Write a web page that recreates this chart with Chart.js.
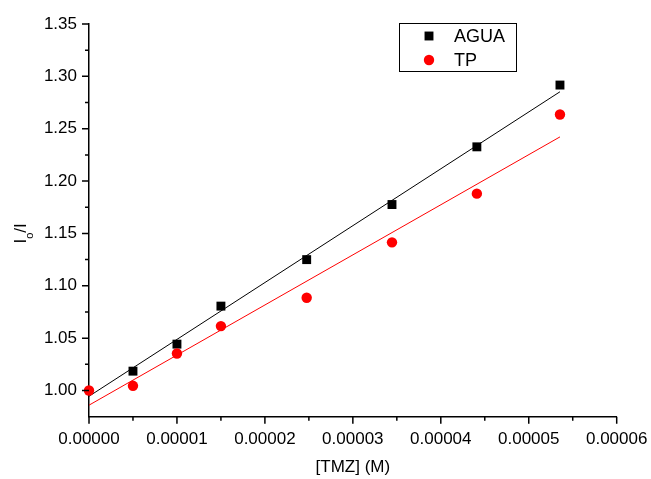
<!DOCTYPE html>
<html>
<head>
<meta charset="utf-8">
<script src="https://cdn.jsdelivr.net/npm/chart.js@4"></script>
<style>
html,body{margin:0;padding:0;background:#fff;}
#wrap{width:651px;height:479px;position:relative;}
</style>
</head>
<body>
<div id="wrap"><canvas id="c" width="651" height="479"></canvas></div>
<script>
// ---- data ----
const seriesNames = ['AGUA', 'TP'];
const xAgua = [0.000005, 0.00001, 0.000015, 0.00002475, 0.00003445, 0.0000441, 0.00005355];
const yAgua = [1.0185, 1.0443, 1.0806, 1.125, 1.1776, 1.2327, 1.2917];
const xTP = [0, 0.000005, 0.00001, 0.000015, 0.00002475, 0.00003445, 0.0000441, 0.00005355];
const yTP = [1.000, 1.0045, 1.0354, 1.0615, 1.0886, 1.1415, 1.188, 1.2636];
const fitX = [0, 0.00005355];
const fitAgua = [0.9945, 1.2853];
const fitTP = [0.986, 1.2422];
const xMajorTicks = [0, 0.00001, 0.00002, 0.00003, 0.00004, 0.00005, 0.00006];
const xMinorTicks = [0.000005, 0.000015, 0.000025, 0.000035, 0.000045, 0.000055];
const yMajorTicks = [1.00, 1.05, 1.10, 1.15, 1.20, 1.25, 1.30, 1.35];
const yMinorTicks = [1.025, 1.075, 1.125, 1.175, 1.225, 1.275, 1.325];
const xTitle = '[TMZ] (M)';
const yTitleParts = ['I', 'o', '/I'];

const FONT = 'Liberation Sans, Arial, sans-serif';
const toPts = (xs, ys) => xs.map((x, i) => ({x: x, y: ys[i]}));

const tickPlugin = {
  id: 'ticksAndLabels',
  afterDraw(chart) {
    const ctx = chart.ctx;
    const xs = chart.scales.x, ys = chart.scales.y;
    const ca = chart.chartArea;
    ctx.save();
    ctx.strokeStyle = '#000';
    ctx.lineWidth = 1.5;
    ctx.beginPath();
    xMajorTicks.forEach(v => { const p = xs.getPixelForValue(v); ctx.moveTo(p, ca.bottom); ctx.lineTo(p, ca.bottom + 7); });
    xMinorTicks.forEach(v => { const p = xs.getPixelForValue(v); ctx.moveTo(p, ca.bottom); ctx.lineTo(p, ca.bottom + 4); });
    yMajorTicks.forEach(v => { const p = ys.getPixelForValue(v); ctx.moveTo(ca.left, p); ctx.lineTo(ca.left - 7, p); });
    yMinorTicks.forEach(v => { const p = ys.getPixelForValue(v); ctx.moveTo(ca.left, p); ctx.lineTo(ca.left - 4, p); });
    ctx.stroke();

    // y axis title with subscript
    ctx.fillStyle = '#000';
    ctx.translate(26, 243.5);
    ctx.rotate(-Math.PI / 2);
    ctx.textBaseline = 'alphabetic';
    ctx.font = '17px ' + FONT;
    ctx.fillText(yTitleParts[0], 0, 0);
    const w0 = ctx.measureText(yTitleParts[0]).width;
    ctx.font = '11px ' + FONT;
    ctx.fillText(yTitleParts[1], w0, 7);
    const w1 = ctx.measureText(yTitleParts[1]).width;
    ctx.font = '17px ' + FONT;
    ctx.fillText(yTitleParts[2], w0 + w1, 0);
    ctx.restore();

    // legend
    ctx.save();
    ctx.strokeStyle = '#000';
    ctx.lineWidth = 1;
    ctx.strokeRect(399.5, 23.5, 117, 48);
    const ds = chart.data.datasets;
    const entries = [ds[0], ds[1]];
    const ys0 = [36, 60];
    entries.forEach((d, i) => {
      ctx.fillStyle = d.pointBackgroundColor;
      ctx.strokeStyle = d.pointBorderColor;
      ctx.lineWidth = 1;
      Chart.helpers.drawPoint(ctx, {pointStyle: d.pointStyle, radius: d.pointRadius, borderWidth: 0}, 429, ys0[i]);
      ctx.fillStyle = '#000';
      ctx.font = '18px ' + FONT;
      ctx.textBaseline = 'middle';
      ctx.fillText(d.label, 454, ys0[i] + 1);
    });
    ctx.restore();
  }
};

new Chart(document.getElementById('c'), {
  type: 'scatter',
  data: {
    datasets: [
      {label: seriesNames[0], data: toPts(xAgua, yAgua), pointStyle: 'rect', pointRadius: 6.3, pointHoverRadius: 6.3,
       pointBackgroundColor: '#000000', pointBorderColor: '#000000', pointBorderWidth: 0, showLine: false, clip: false, order: 2},
      {label: seriesNames[1], data: toPts(xTP, yTP), pointStyle: 'circle', pointRadius: 5.2, pointHoverRadius: 5.2,
       pointBackgroundColor: '#ff0000', pointBorderColor: '#ff0000', pointBorderWidth: 0, showLine: false, clip: false, order: 1},
      {label: 'fitAgua', data: toPts(fitX, fitAgua), showLine: true, borderColor: '#000000', borderWidth: 1, pointRadius: 0, order: 3},
      {label: 'fitTP', data: toPts(fitX, fitTP), showLine: true, borderColor: '#ff0000', borderWidth: 1, pointRadius: 0, order: 3}
    ]
  },
  options: {
    responsive: false,
    animation: false,
    events: [],
    layout: {padding: {top: 24, right: 34.3, bottom: 0, left: 0}},
    plugins: {legend: {display: false}, tooltip: {enabled: false}},
    scales: {
      x: {
        type: 'linear', min: 0, max: 0.00006,
        afterFit(s) { s.height = 62.3; s.paddingRight = 0; s.paddingLeft = 0; },
        afterBuildTicks(s) { s.ticks = xMajorTicks.map(v => ({value: v})); },
        grid: {display: false, drawTicks: false},
        border: {display: true, color: '#000', width: 1.5},
        ticks: {color: '#000', font: {family: FONT, size: 17}, padding: 12, maxRotation: 0, autoSkip: false,
                callback: v => Number(v).toFixed(5)},
        title: {display: true, text: xTitle, color: '#000', font: {family: FONT, size: 17}, padding: {top: 0, bottom: 1}}
      },
      y: {
        type: 'linear', min: 0.975, max: 1.35,
        afterFit(s) { s.width = 89; s.paddingTop = 0; s.paddingBottom = 0; },
        afterBuildTicks(s) { s.ticks = yMajorTicks.map(v => ({value: v})); },
        grid: {display: false, drawTicks: false},
        border: {display: true, color: '#000', width: 1.5},
        ticks: {color: '#000', font: {family: FONT, size: 17}, padding: 12, autoSkip: false,
                callback: v => Number(v).toFixed(2)}
      }
    }
  },
  plugins: [tickPlugin]
});
</script>
</body>
</html>
